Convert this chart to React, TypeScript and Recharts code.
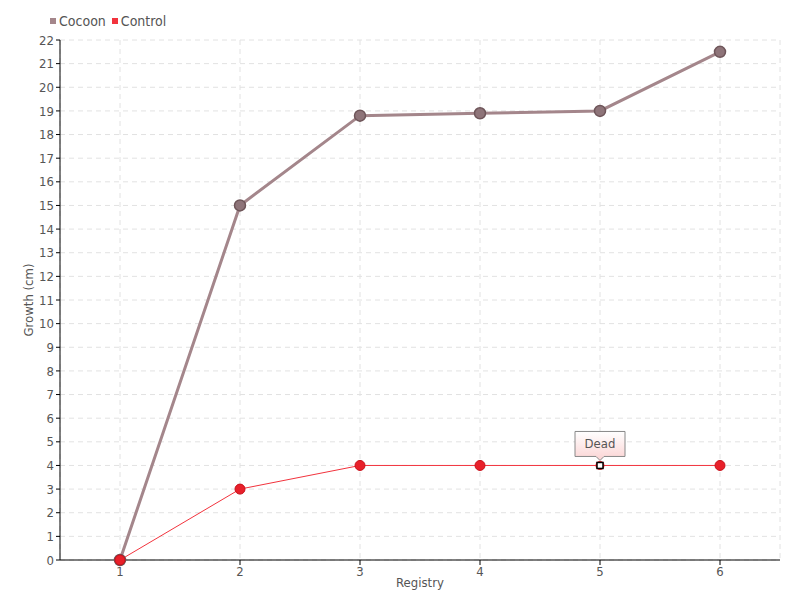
import { CartesianGrid, Line, LineChart, XAxis, YAxis } from "recharts";

const registry = ["1", "2", "3", "4", "5", "6"];
const cocoon = [0, 15, 18.8, 18.9, 19, 21.5];
const control = [0, 3, 4, 4, 4, 4];
const notes = ["", "", "", "", "Dead", ""];
const yTicks = [0, 1, 2, 3, 4, 5, 6, 7, 8, 9, 10, 11, 12, 13, 14, 15, 16, 17, 18, 19, 20, 21, 22];

const FONT = "'DejaVu Sans Condensed', sans-serif";
const TEXT = "#555";
const COCOON = "#a4868b";
const CONTROL = "#f2333d";

const data = registry.map((r, i) => ({
  registry: r,
  cocoon: cocoon[i],
  control: control[i],
  note: notes[i],
}));

function ControlDot(props: any) {
  const { cx, cy, index } = props;
  const note = data[index]?.note;
  if (!note) {
    return <circle key={index} cx={cx} cy={cy} r={5} fill="#e8202a" stroke="#c8101a" strokeWidth={1} />;
  }
  const w = 50;
  const h = 25;
  const top = cy - 34;
  return (
    <g key={index}>
      <circle cx={cx} cy={cy} r={4.5} fill="#e8202a" />
      <rect x={cx - 3} y={cy - 3} width={6} height={6} fill="#fff" stroke="#000" strokeWidth={1.5} />
      <defs>
        <linearGradient id="noteFill" x1="0" y1="0" x2="0" y2="1">
          <stop offset="0%" stopColor="#ffffff" />
          <stop offset="100%" stopColor="#fbd3d3" />
        </linearGradient>
      </defs>
      <path
        d={`M${cx - w / 2},${top} H${cx + w / 2} V${top + h} H${cx + 4} L${cx},${top + h + 4} L${cx - 4},${top + h} H${cx - w / 2} Z`}
        fill="url(#noteFill)"
        stroke="#888"
        strokeWidth={1}
      />
      <text x={cx} y={top + h / 2 + 1} textAnchor="middle" dominantBaseline="middle" fontSize={13} fill={TEXT} fontFamily={FONT}>
        {note}
      </text>
    </g>
  );
}

function Legend() {
  const item = (color: string, label: string) => (
    <span style={{ display: "inline-flex", alignItems: "center", marginRight: 6 }}>
      <span style={{ width: 6, height: 6, background: color, display: "inline-block", marginRight: 3 }} />
      {label}
    </span>
  );
  return (
    <div
      style={{
        position: "absolute",
        left: 50,
        top: 13,
        fontFamily: FONT,
        fontSize: 14,
        color: TEXT,
        display: "flex",
      }}
    >
      {item(COCOON, "Cocoon")}
      {item(CONTROL, "Control")}
    </div>
  );
}

export default function App() {
  return (
    <div style={{ position: "absolute", left: 0, top: 0, width: 800, height: 600, background: "#fff" }}>
      <LineChart width={800} height={600} data={data} margin={{ top: 40, right: 20, bottom: 0, left: 0 }}>
        <CartesianGrid stroke="#e2e2e2" strokeDasharray="5 4" />
        <XAxis
          dataKey="registry"
          height={40}
          padding={{ left: 60, right: 60 }}
          stroke="#000"
          tickSize={5}
          tick={{ fill: TEXT, fontSize: 13, fontFamily: FONT }}
          label={{ value: "Registry", position: "center", dy: 2, fill: TEXT, fontSize: 13, fontFamily: FONT }}
        />
        <YAxis
          width={60}
          domain={[0, 22]}
          ticks={yTicks}
          interval={0}
          stroke="#000"
          tickSize={4}
          tick={{ fill: TEXT, fontSize: 13, fontFamily: FONT }}
          label={{ value: "Growth (cm)", angle: -90, position: "center", dx: -2, fill: TEXT, fontSize: 13, fontFamily: FONT }}
        />
        <Line
          dataKey="cocoon"
          stroke={COCOON}
          strokeWidth={3}
          isAnimationActive={false}
          dot={{ r: 5.5, fill: "#8e7479", stroke: "#6e5559", strokeWidth: 1.5 }}
        />
        <Line
          dataKey="control"
          stroke={CONTROL}
          strokeWidth={1}
          isAnimationActive={false}
          dot={<ControlDot />}
        />
      </LineChart>
      <Legend />
    </div>
  );
}
